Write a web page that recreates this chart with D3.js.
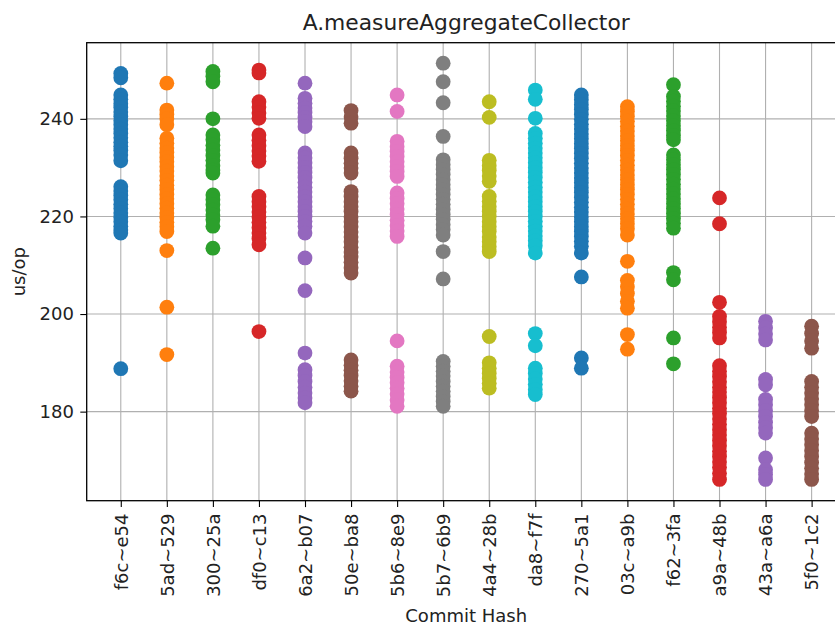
<!DOCTYPE html>
<html>
<head>
<meta charset="utf-8">
<script src="https://cdn.jsdelivr.net/npm/d3@7"></script>
<style>
  body { margin: 0; background: #fff; }
  svg text { font-family: "DejaVu Sans", sans-serif; fill: #222; }
</style>
</head>
<body>
<svg></svg>
<script>
const commits = ["f6c~e54", "5ad~529", "300~25a", "df0~c13", "6a2~b07", "50e~ba8", "5b6~8e9", "5b7~6b9",
    "4a4~28b", "da8~f7f", "270~5a1", "03c~a9b", "f62~3fa", "a9a~48b", "43a~a6a", "5f0~1c2"]

const f6c_e54 = [249.3, 248.4, 244.9, 244.0, 243.1, 242.3, 241.4, 240.5, 239.6, 238.8, 237.9, 237.0, 236.1, 235.2, 234.4,
    233.5, 232.6, 231.4, 226.1, 225.2, 224.3, 223.4, 222.5, 221.6, 220.7, 219.8, 218.9, 218.0, 217.2, 216.6, 188.8]
const ad5_529 = [247.3, 241.8, 240.9, 240.0, 238.8, 236.0, 235.0, 234.0, 233.1, 232.1, 231.2, 230.2, 229.3, 228.3, 227.4,
    226.4, 225.5, 224.5, 223.6, 222.6, 221.7, 220.7, 219.8, 218.8, 217.9, 216.9, 213.0, 201.4, 191.7]
const c300_25a = [249.7, 248.7, 247.6, 240.0, 236.7, 235.7, 234.6, 233.6, 232.5, 231.5, 230.4, 229.5, 228.9, 224.4, 223.4,
    222.4, 221.3, 220.3, 219.3, 218.0, 213.5]
const df0_c13 = [250.0, 249.4, 243.5, 242.4, 241.2, 240.1, 236.7, 235.6, 234.5, 233.4, 232.4, 231.3, 224.1, 223.0, 222.0,
    220.9, 219.9, 218.8, 217.7, 216.6, 215.5, 214.2, 196.4]
const a62_b07 = [247.3, 244.2, 243.2, 242.2, 241.3, 240.3, 239.4, 238.4, 233.0, 232.0, 231.0, 230.0, 229.0, 228.0, 227.0,
    226.0, 225.0, 224.0, 223.0, 222.0, 221.0, 220.0, 219.0, 218.0, 216.6, 211.5, 204.8, 192.0, 188.6, 187.4, 186.2,
    185.0, 183.8, 182.8, 181.8]
const e50_ba8 = [241.7, 240.4, 239.1, 233.0, 231.9, 230.9, 229.9, 228.9, 225.1, 224.1, 223.0, 222.0, 221.0, 219.9, 218.9,
    217.9, 216.8, 215.8, 214.8, 213.7, 212.7, 211.7, 210.6, 209.5, 208.4, 190.6, 189.5, 188.5, 187.4, 186.3, 185.2, 184.2]
const b6_8e9 = [244.9, 241.5, 235.4, 234.3, 233.3, 232.3, 231.2, 230.2, 229.2, 228.2, 224.8, 223.7, 222.6, 221.5, 220.4,
    219.2, 218.1, 217.0, 215.9, 194.5, 189.3, 188.1, 187.0, 185.9, 184.8, 183.6, 182.4, 181.1]
const b7_6b9 = [251.4, 247.6, 243.3, 236.4, 231.6, 230.6, 229.6, 228.6, 227.5, 226.5, 225.5, 224.5, 223.5, 222.5, 221.4,
    220.4, 219.4, 218.3, 217.3, 216.2, 212.8, 207.2, 190.3, 189.3, 188.3, 187.3, 186.2, 185.2, 184.2, 183.1, 182.1, 181.1]
const a4_28b = [243.5, 240.3, 231.5, 230.4, 229.4, 228.3, 227.2, 224.1, 223.1, 222.0, 221.0, 220.0, 218.9, 217.9, 216.9,
    215.8, 214.8, 213.8, 212.8, 195.4, 190.0, 188.9, 187.8, 186.8, 185.8, 184.8]
const da8_f7f = [245.9, 244.0, 240.1, 237.0, 236.0, 235.0, 234.0, 233.0, 232.0, 231.0, 230.0, 229.0, 228.0, 227.0, 226.0,
    225.0, 224.0, 223.0, 222.0, 221.0, 220.0, 219.0, 218.0, 217.0, 216.0, 215.0, 214.0, 212.5, 196.0, 193.5, 188.9,
    187.8, 186.7, 185.6, 184.5, 183.5]
const c270_5a1 = [244.9, 243.9, 242.9, 241.9, 240.9, 239.9, 238.9, 237.9, 236.9, 235.9, 234.9, 233.9, 232.9, 231.9, 230.9,
    229.9, 228.9, 227.9, 226.9, 225.9, 224.9, 223.9, 222.9, 221.9, 220.9, 219.9, 218.9, 217.9, 216.9, 215.9, 214.9,
    213.9, 212.5, 207.6, 191.0, 188.9]
const c03c_a9b = [242.5, 241.5, 240.5, 239.5, 238.5, 237.5, 236.5, 235.5, 234.5, 233.5, 232.5, 231.5, 230.5, 229.5, 228.5,
    227.5, 226.5, 225.5, 224.5, 223.5, 222.5, 221.5, 220.5, 219.5, 218.5, 217.5, 216.2, 210.8, 206.9, 205.6, 204.2,
    202.6, 201.2, 195.8, 192.8]
const f62_3fa = [247.0, 244.6, 243.6, 242.6, 241.6, 240.6, 239.6, 238.6, 237.6, 236.6, 235.7, 232.6, 231.6, 230.6, 229.6,
    228.6, 227.6, 226.6, 225.6, 224.6, 223.6, 222.6, 221.6, 220.6, 219.6, 218.6, 217.6, 208.5, 207.0, 195.1, 189.8]
const a9a_48b = [223.8, 218.5, 202.4, 199.5, 198.4, 197.3, 196.2, 195.1, 189.4, 188.3, 187.2, 186.1, 185.0, 184.0, 182.9,
    181.8, 180.7, 179.6, 178.5, 177.4, 176.3, 175.2, 174.1, 173.0, 171.9, 170.8, 169.7, 168.6, 167.4, 166.1]
const a43_a6a = [198.5, 197.2, 195.9, 194.7, 186.6, 185.5, 182.5, 181.4, 180.2, 179.0, 177.8, 176.7, 175.6, 170.5, 168.1,
    167.1, 166.1]
const f50_1c2 = [197.5, 196.0, 194.5, 193.0, 186.2, 185.0, 183.8, 182.6, 181.4, 180.2, 179.0, 175.6, 174.4, 173.2, 172.0,
    170.8, 169.6, 168.4, 167.2, 166.1]

const seriesValues = [f6c_e54, ad5_529, c300_25a, df0_c13, a62_b07, e50_ba8, b6_8e9, b7_6b9,
    a4_28b, da8_f7f, c270_5a1, c03c_a9b, f62_3fa, a9a_48b, a43_a6a, f50_1c2]
const yTicks = [180, 200, 220, 240]

const palette = ["#1f77b4", "#ff7f0e", "#2ca02c", "#d62728", "#9467bd", "#8c564b", "#e377c2", "#7f7f7f", "#bcbd22", "#17becf"]

let svgWidth = 835, svgHeight = 627
let plotLeft = 86.7, plotRight = 845.7, plotTop = 42.7, plotBottom = 500.7

let svg = d3.select('svg')
    .attr('width', svgWidth)
    .attr('height', svgHeight)

let x = d3.scalePoint()
    .domain(commits)
    .range([plotLeft, plotRight])
    .padding(0.74)

let y = d3.scaleLinear()
    .domain([161.75, 255.6])
    .range([plotBottom, plotTop])

// flatten into points, keeping the category index for colour
let points = []
seriesValues.forEach(function(vals, i){
    vals.forEach(function(v){
        points.push({commit: commits[i], idx: i, value: v})
    })
})

// grid
svg.append('g').selectAll('line')
    .data(commits)
    .enter()
    .append('line')
    .attr('x1', d => x(d)).attr('x2', d => x(d))
    .attr('y1', plotTop).attr('y2', plotBottom)
    .attr('stroke', '#b0b0b0')
    .attr('stroke-width', 1.1)

svg.append('g').selectAll('line')
    .data(yTicks)
    .enter()
    .append('line')
    .attr('x1', plotLeft).attr('x2', plotRight)
    .attr('y1', d => y(d)).attr('y2', d => y(d))
    .attr('stroke', '#b0b0b0')
    .attr('stroke-width', 1.1)

// dots
svg.append('g').selectAll('circle')
    .data(points)
    .enter()
    .append('circle')
    .attr('cx', d => x(d.commit))
    .attr('cy', d => y(d.value))
    .attr('r', 7.4)
    .attr('fill', d => palette[d.idx % 10])

// axes
let xAxis = svg.append('g')
    .attr('transform', 'translate(0,' + plotBottom + ')')
    .call(d3.axisBottom(x).tickSize(6.4).tickSizeOuter(0).tickPadding(6.4))
xAxis.select('.domain').remove()
xAxis.selectAll('line').attr('stroke', '#000').attr('stroke-width', 1.1)
xAxis.selectAll('text')
    .attr('font-size', 18)
    .attr('transform', 'rotate(-90)')
    .attr('text-anchor', 'end')
    .attr('x', -12.8)
    .attr('y', 0)
    .attr('dy', '0.35em')

let yAxis = svg.append('g')
    .attr('transform', 'translate(' + plotLeft + ',0)')
    .call(d3.axisLeft(y).tickValues(yTicks).tickSize(6.4).tickSizeOuter(0).tickPadding(6.4))
yAxis.select('.domain').remove()
yAxis.selectAll('line').attr('stroke', '#000').attr('stroke-width', 1.1)
yAxis.selectAll('text').attr('font-size', 18)

// frame
svg.append('rect')
    .attr('x', plotLeft).attr('y', plotTop)
    .attr('width', plotRight - plotLeft).attr('height', plotBottom - plotTop)
    .attr('fill', 'none')
    .attr('stroke', '#000')
    .attr('stroke-width', 1.3)

svg.append('text')
    .attr('x', (plotLeft + plotRight) / 2)
    .attr('y', 30)
    .attr('text-anchor', 'middle')
    .attr('font-size', 21.8)
    .text('A.measureAggregateCollector')

svg.append('text')
    .attr('x', (plotLeft + plotRight) / 2)
    .attr('y', 622)
    .attr('text-anchor', 'middle')
    .attr('font-size', 18)
    .text('Commit Hash')

svg.append('text')
    .attr('transform', 'translate(25,' + (plotTop + plotBottom) / 2 + ') rotate(-90)')
    .attr('text-anchor', 'middle')
    .attr('font-size', 18)
    .text('us/op')
</script>
</body>
</html>
